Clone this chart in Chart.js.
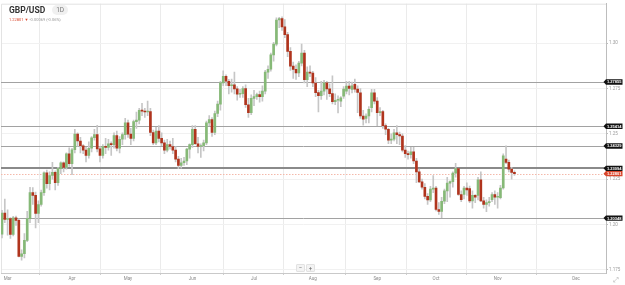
<!DOCTYPE html>
<html>
<head>
<meta charset="utf-8">
<script src="https://cdn.jsdelivr.net/npm/chart.js@4.4.1/dist/chart.umd.min.js"></script>
<style>
html, body { margin: 0; padding: 0; background: #fff; }
#wrap { position: relative; width: 625px; height: 285px; font-family: Roboto, "Open Sans", sans-serif; }
#title { position: absolute; left: 9px; top: 4px; height: 11px; display: flex; align-items: center; }
#title .sym { font-weight: bold; font-size: 8.5px; color: #333; }
#title .tf { margin-left: 7px; background: #f0f0f0; border-radius: 6px; padding: 1px 4px; font-size: 6.5px; color: #777; }
#sub { position: absolute; left: 9px; top: 17px; font-size: 4px; color: #999; white-space: nowrap; }
#sub .red { color: #d9452b; }
#zoomBtns { position: absolute; left: 296px; top: 264px; display: flex; gap: 1px; }
#zoomBtns span { width: 7px; height: 6px; line-height: 6px; text-align: center; font-size: 6px; color: #666; background: #f3f3f3; border: 1px solid #e2e2e2; border-radius: 1px; }
#resize { position: absolute; left: 613px; top: 276px; font-size: 7px; color: #aaa; }
</style>
</head>
<body>
<div id="wrap">
  <canvas id="chart"></canvas>
  <div id="title"><span class="sym">GBP/USD</span><span class="tf">1D</span></div>
  <div id="sub"><span class="red">1.22801 ▼</span> -0.00069 (-0.06%)</div>
  <div id="zoomBtns"><span>−</span><span>+</span></div>
  <div id="resize">⤢</div>
</div>
<script>
// trading days, Feb 27 – Nov 9
const dates = [
  '02-27','02-28',
  '03-01','03-02','03-03','03-06','03-07','03-08','03-09','03-10','03-13','03-14','03-15','03-16','03-17','03-20','03-21','03-22','03-23','03-24','03-27','03-28','03-29','03-30','03-31',
  '04-03','04-04','04-05','04-06','04-07','04-10','04-11','04-12','04-13','04-14','04-17','04-18','04-19','04-20','04-21','04-24','04-25','04-26','04-27','04-28',
  '05-01','05-02','05-03','05-04','05-05','05-08','05-09','05-10','05-11','05-12','05-15','05-16','05-17','05-18','05-19','05-22','05-23','05-24','05-25','05-26','05-29','05-30','05-31',
  '06-01','06-02','06-05','06-06','06-07','06-08','06-09','06-12','06-13','06-14','06-15','06-16','06-19','06-20','06-21','06-22','06-23','06-26','06-27','06-28','06-29','06-30',
  '07-03','07-04','07-05','07-06','07-07','07-10','07-11','07-12','07-13','07-14','07-17','07-18','07-19','07-20','07-21','07-24','07-25','07-26','07-27','07-28','07-31',
  '08-01','08-02','08-03','08-04','08-07','08-08','08-09','08-10','08-11','08-14','08-15','08-16','08-17','08-18','08-21','08-22','08-23','08-24','08-25','08-28','08-29','08-30','08-31',
  '09-01','09-04','09-05','09-06','09-07','09-08','09-11','09-12','09-13','09-14','09-15','09-18','09-19','09-20','09-21','09-22','09-25','09-26','09-27','09-28','09-29',
  '10-02','10-03','10-04','10-05','10-06','10-09','10-10','10-11','10-12','10-13','10-16','10-17','10-18','10-19','10-20','10-23','10-24','10-25','10-26','10-27','10-30','10-31',
  '11-01','11-02','11-03','11-06','11-07','11-08','11-09'
];

const opens = [
  1.1946, 1.2063,
  1.2027, 1.2032, 1.1945, 1.2036, 1.2022, 1.1824, 1.1838, 1.1912, 1.2032, 1.2175, 1.2160, 1.2060, 1.2110, 1.2175, 1.2285, 1.2225, 1.2270, 1.2288, 1.2230, 1.2308, 1.2340, 1.2315, 1.2390,
  1.2335, 1.2412, 1.2498, 1.2460, 1.2434, 1.2410, 1.2380, 1.2420, 1.2478, 1.2495, 1.2417, 1.2380, 1.2430, 1.2425, 1.2445, 1.2440, 1.2490, 1.2420, 1.2470, 1.2495,
  1.2561, 1.2498, 1.2475, 1.2567, 1.2575, 1.2630, 1.2625, 1.2620, 1.2622, 1.2507, 1.2450, 1.2515, 1.2475, 1.2450, 1.2410, 1.2440, 1.2430, 1.2410, 1.2360, 1.2325, 1.2340, 1.2350, 1.2415,
  1.2440, 1.2525, 1.2445, 1.2430, 1.2435, 1.2450, 1.2560, 1.2578, 1.2507, 1.2612, 1.2664, 1.2781, 1.2817, 1.2790, 1.2765, 1.2770, 1.2748, 1.2718, 1.2722, 1.2750, 1.2660, 1.2616,
  1.2695, 1.2705, 1.2716, 1.2705, 1.2735, 1.2840, 1.2856, 1.2935, 1.2995, 1.3128, 1.3135, 1.3090, 1.3047, 1.2955, 1.2873, 1.2855, 1.2836, 1.2890, 1.2945, 1.2799, 1.2840,
  1.2835, 1.2780, 1.2727, 1.2710, 1.2735, 1.2781, 1.2748, 1.2722, 1.2677, 1.2685, 1.2680, 1.2708, 1.2735, 1.2763, 1.2745, 1.2773, 1.2746, 1.2726, 1.2598, 1.2585, 1.2598, 1.2644, 1.2726,
  1.2680, 1.2616, 1.2622, 1.2545, 1.2525, 1.2465, 1.2470, 1.2505, 1.2495, 1.2488, 1.2410, 1.2390, 1.2385, 1.2400, 1.2350, 1.2290, 1.2235, 1.2205, 1.2155, 1.2135, 1.2195,
  1.2200, 1.2082, 1.2072, 1.2128, 1.2185, 1.2228, 1.2236, 1.2283, 1.2308, 1.2165, 1.2165, 1.2201, 1.2198, 1.2130, 1.2160, 1.2160, 1.2246, 1.2130, 1.2110, 1.2120, 1.2137, 1.2165,
  1.2150, 1.2147, 1.2201, 1.2360, 1.2342, 1.2305, 1.2287
];

const highs = [
  1.2077, 1.2140,
  1.2080, 1.2038, 1.2045, 1.2046, 1.2031, 1.1860, 1.1950, 1.2072, 1.2204, 1.2203, 1.2178, 1.2130, 1.2190, 1.2290, 1.2300, 1.2290, 1.2343, 1.2295, 1.2315, 1.2345, 1.2345, 1.2395, 1.2423,
  1.2420, 1.2525, 1.2505, 1.2480, 1.2440, 1.2425, 1.2455, 1.2485, 1.2525, 1.2546, 1.2430, 1.2440, 1.2475, 1.2470, 1.2455, 1.2505, 1.2515, 1.2485, 1.2505, 1.2585,
  1.2575, 1.2530, 1.2575, 1.2620, 1.2640, 1.2668, 1.2640, 1.2680, 1.2640, 1.2520, 1.2535, 1.2545, 1.2505, 1.2465, 1.2470, 1.2460, 1.2475, 1.2430, 1.2375, 1.2365, 1.2370, 1.2420, 1.2445,
  1.2545, 1.2545, 1.2480, 1.2445, 1.2465, 1.2570, 1.2600, 1.2590, 1.2625, 1.2680, 1.2790, 1.2848, 1.2825, 1.2800, 1.2802, 1.2840, 1.2760, 1.2745, 1.2760, 1.2770, 1.2695, 1.2715,
  1.2740, 1.2725, 1.2735, 1.2765, 1.2850, 1.2875, 1.2945, 1.3005, 1.3140, 1.3142, 1.3145, 1.3130, 1.3060, 1.2975, 1.2895, 1.2880, 1.2900, 1.2995, 1.2960, 1.2870, 1.2875,
  1.2845, 1.2810, 1.2740, 1.2790, 1.2795, 1.2790, 1.2775, 1.2820, 1.2720, 1.2710, 1.2705, 1.2760, 1.2790, 1.2790, 1.2785, 1.2802, 1.2765, 1.2750, 1.2630, 1.2610, 1.2650, 1.2745, 1.2745,
  1.2700, 1.2645, 1.2630, 1.2555, 1.2530, 1.2500, 1.2525, 1.2545, 1.2510, 1.2500, 1.2435, 1.2405, 1.2425, 1.2425, 1.2365, 1.2305, 1.2250, 1.2225, 1.2170, 1.2210, 1.2270,
  1.2210, 1.2120, 1.2150, 1.2195, 1.2260, 1.2240, 1.2290, 1.2337, 1.2310, 1.2185, 1.2210, 1.2230, 1.2212, 1.2185, 1.2165, 1.2260, 1.2290, 1.2150, 1.2135, 1.2150, 1.2175, 1.2185,
  1.2175, 1.2215, 1.2390, 1.2433, 1.2355, 1.2315, 1.2295
];

const lows = [
  1.1925, 1.2010,
  1.1940, 1.1922, 1.1937, 1.1995, 1.1820, 1.1802, 1.1815, 1.1905, 1.2010, 1.2110, 1.1980, 1.2010, 1.2100, 1.2160, 1.2200, 1.2190, 1.2250, 1.2190, 1.2215, 1.2280, 1.2290, 1.2305, 1.2320,
  1.2275, 1.2395, 1.2430, 1.2395, 1.2390, 1.2345, 1.2365, 1.2400, 1.2465, 1.2400, 1.2345, 1.2365, 1.2390, 1.2410, 1.2380, 1.2420, 1.2405, 1.2395, 1.2440, 1.2470,
  1.2480, 1.2440, 1.2460, 1.2530, 1.2555, 1.2600, 1.2590, 1.2600, 1.2490, 1.2440, 1.2440, 1.2455, 1.2435, 1.2390, 1.2400, 1.2415, 1.2390, 1.2345, 1.2308, 1.2310, 1.2325, 1.2330, 1.2365,
  1.2425, 1.2440, 1.2395, 1.2370, 1.2405, 1.2440, 1.2545, 1.2485, 1.2495, 1.2595, 1.2630, 1.2765, 1.2765, 1.2720, 1.2730, 1.2720, 1.2685, 1.2700, 1.2700, 1.2645, 1.2590, 1.2605,
  1.2655, 1.2690, 1.2675, 1.2680, 1.2720, 1.2805, 1.2845, 1.2900, 1.2985, 1.3085, 1.3070, 1.3030, 1.2925, 1.2850, 1.2805, 1.2800, 1.2815, 1.2875, 1.2780, 1.2760, 1.2815,
  1.2760, 1.2705, 1.2620, 1.2690, 1.2715, 1.2690, 1.2705, 1.2665, 1.2660, 1.2615, 1.2650, 1.2695, 1.2720, 1.2715, 1.2725, 1.2730, 1.2616, 1.2585, 1.2548, 1.2560, 1.2560, 1.2620, 1.2665,
  1.2545, 1.2600, 1.2530, 1.2495, 1.2445, 1.2445, 1.2460, 1.2445, 1.2440, 1.2400, 1.2370, 1.2360, 1.2365, 1.2335, 1.2230, 1.2230, 1.2195, 1.2140, 1.2110, 1.2125, 1.2175,
  1.2075, 1.2055, 1.2037, 1.2115, 1.2125, 1.2150, 1.2205, 1.2260, 1.2160, 1.2125, 1.2140, 1.2160, 1.2120, 1.2090, 1.2120, 1.2135, 1.2125, 1.2090, 1.2070, 1.2100, 1.2125, 1.2110,
  1.2090, 1.2140, 1.2195, 1.2335, 1.2290, 1.2250, 1.2270
];

const closes = [
  1.2063, 1.2027,
  1.2032, 1.1945, 1.2036, 1.2022, 1.1824, 1.1838, 1.1912, 1.2032, 1.2175, 1.2160, 1.2060, 1.2110, 1.2175, 1.2285, 1.2225, 1.2270, 1.2288, 1.2230, 1.2308, 1.2340, 1.2315, 1.2390, 1.2335,
  1.2412, 1.2498, 1.2460, 1.2434, 1.2410, 1.2380, 1.2420, 1.2478, 1.2495, 1.2417, 1.2380, 1.2430, 1.2425, 1.2445, 1.2440, 1.2490, 1.2420, 1.2470, 1.2495, 1.2561,
  1.2498, 1.2475, 1.2567, 1.2575, 1.2630, 1.2625, 1.2620, 1.2622, 1.2507, 1.2450, 1.2515, 1.2475, 1.2450, 1.2410, 1.2440, 1.2430, 1.2410, 1.2360, 1.2325, 1.2340, 1.2350, 1.2415, 1.2440,
  1.2525, 1.2445, 1.2430, 1.2435, 1.2450, 1.2560, 1.2578, 1.2507, 1.2612, 1.2664, 1.2781, 1.2817, 1.2790, 1.2765, 1.2770, 1.2748, 1.2718, 1.2722, 1.2750, 1.2660, 1.2616, 1.2695,
  1.2705, 1.2716, 1.2705, 1.2735, 1.2840, 1.2856, 1.2935, 1.2995, 1.3128, 1.3135, 1.3090, 1.3047, 1.2955, 1.2873, 1.2855, 1.2836, 1.2890, 1.2945, 1.2799, 1.2840, 1.2835,
  1.2780, 1.2727, 1.2710, 1.2735, 1.2781, 1.2748, 1.2722, 1.2677, 1.2685, 1.2688, 1.2698, 1.2746, 1.2763, 1.2750, 1.2765, 1.2746, 1.2728, 1.2598, 1.2580, 1.2598, 1.2635, 1.2726, 1.2680,
  1.2616, 1.2622, 1.2545, 1.2525, 1.2465, 1.2470, 1.2505, 1.2495, 1.2488, 1.2410, 1.2390, 1.2385, 1.2400, 1.2350, 1.2290, 1.2235, 1.2205, 1.2155, 1.2135, 1.2195, 1.2200,
  1.2082, 1.2072, 1.2128, 1.2185, 1.2228, 1.2236, 1.2283, 1.2308, 1.2165, 1.2137, 1.2201, 1.2190, 1.2130, 1.2160, 1.2150, 1.2246, 1.2130, 1.2110, 1.2120, 1.2125, 1.2165, 1.2150,
  1.2155, 1.2201, 1.2378, 1.2342, 1.2305, 1.2287, 1.22801
];

// month labels on the time axis and the candle index they sit at
const monthLabels = ['Mar', 'Apr', 'May', 'Jun', 'Jul', 'Aug', 'Sep', 'Oct', 'Nov', 'Dec'];
const monthTicks = [2, 25, 45, 68, 90, 111, 134, 155, 177, 205];

const priceTicks = [1.175, 1.2, 1.225, 1.25, 1.275, 1.3];

// horizontal support / resistance levels
const levelPrices = [1.27855, 1.25414, 1.24329, 1.23094, 1.20348];
const lastPrice = closes[closes.length - 1];

const upColor = '#86b977';
const downColor = '#b0341d';

const wicks = dates.map((d, i) => ({ x: i, y: [lows[i], highs[i]] }));
const bodies = dates.map((d, i) => ({ x: i, y: [opens[i], closes[i]] }));

function drawTag(ctx, xLeft, y, text, color) {
    const h = 5.4, w = 19;
    ctx.fillStyle = color;
    ctx.beginPath();
    ctx.moveTo(xLeft, y);
    ctx.lineTo(xLeft + 2.5, y - h / 2);
    ctx.lineTo(xLeft + w, y - h / 2);
    ctx.lineTo(xLeft + w, y + h / 2);
    ctx.lineTo(xLeft + 2.5, y + h / 2);
    ctx.closePath();
    ctx.fill();
    ctx.fillStyle = '#fff';
    ctx.font = 'bold 4px "Liberation Sans", Arial, sans-serif';
    ctx.textAlign = 'center';
    ctx.textBaseline = 'middle';
    ctx.fillText(text, xLeft + 2.5 + (w - 2.5) / 2, y + 0.3);
}

const levelsPlugin = {
    id: 'levels',
    beforeDatasetsDraw(chart) {
        const { ctx, chartArea, scales } = chart;
        ctx.save();
        // frame
        ctx.strokeStyle = '#e3e3e3';
        ctx.lineWidth = 1;
        ctx.beginPath();
        ctx.moveTo(chartArea.left + 0.5, chartArea.bottom);
        ctx.lineTo(chartArea.left + 0.5, chartArea.top + 0.5);
        ctx.lineTo(chartArea.right, chartArea.top + 0.5);
        ctx.stroke();

        levelPrices.forEach((p, k) => {
            const y = Math.round(scales.y.getPixelForValue(p));
            ctx.strokeStyle = k === 3 ? '#8a8a8a' : '#a2a2a2';
            ctx.lineWidth = k === 3 ? 2 : 1;
            ctx.beginPath();
            ctx.moveTo(chartArea.left, k === 3 ? y : y + 0.5);
            ctx.lineTo(chartArea.right, k === 3 ? y : y + 0.5);
            ctx.stroke();
        });

        const yLast = Math.round(scales.y.getPixelForValue(lastPrice)) + 0.5;
        ctx.strokeStyle = '#f4b9aa';
        ctx.lineWidth = 1;
        ctx.setLineDash([1.5, 1.5]);
        ctx.beginPath();
        ctx.moveTo(chartArea.left, yLast);
        ctx.lineTo(chartArea.right, yLast);
        ctx.stroke();
        ctx.restore();
    },
    afterDraw(chart) {
        const { ctx, chartArea, scales } = chart;
        ctx.save();
        levelPrices.forEach(p => {
            drawTag(ctx, chartArea.right - 2.5, scales.y.getPixelForValue(p), p.toFixed(5), '#111');
        });
        drawTag(ctx, chartArea.right - 2.5, scales.y.getPixelForValue(lastPrice), lastPrice.toFixed(5), '#d9452b');
        ctx.restore();
    }
};

const ctx = document.getElementById('chart').getContext('2d');
const chart = new Chart(ctx, {
    type: 'bar',
    data: {
        datasets: [{
            label: 'wick',
            data: wicks,
            backgroundColor: '#c6c6c6',
            barThickness: 1,
            grouped: false,
            order: 2
        }, {
            label: 'body',
            data: bodies,
            backgroundColor: function(c) {
                const i = c.dataIndex;
                return closes[i] >= opens[i] ? upColor : downColor;
            },
            barThickness: 2,
            minBarLength: 1,
            grouped: false,
            order: 1
        }]
    },
    options: {
        responsive: true,
        maintainAspectRatio: false,
        animation: false,
        events: [],
        layout: { padding: { left: 1, top: 2, right: 0, bottom: 0 } },
        plugins: {
            legend: { display: false },
            tooltip: { enabled: false }
        },
        scales: {
            x: {
                type: 'linear',
                min: -0.36,
                max: 215.7,
                offset: false,
                afterFit: function(scale) { scale.height = 12; },
                afterBuildTicks: function(scale) {
                    scale.ticks = monthTicks.map(v => ({ value: v }));
                },
                ticks: {
                    autoSkip: false,
                    maxRotation: 0,
                    padding: 1,
                    color: '#8a8a8a',
                    font: { size: 4.5, family: 'Roboto, sans-serif' },
                    callback: function(value) {
                        return monthLabels[monthTicks.indexOf(value)];
                    }
                },
                grid: { color: '#ebebeb', tickLength: 2, tickColor: '#cfcfcf' },
                border: { color: '#c9c9c9' }
            },
            y: {
                position: 'right',
                min: 1.17319,
                max: 1.32177,
                afterFit: function(scale) { scale.width = 19; },
                afterBuildTicks: function(scale) {
                    scale.ticks = priceTicks.map(v => ({ value: v }));
                },
                ticks: {
                    padding: 1,
                    color: '#9a9a9a',
                    font: { size: 4.5, family: 'Roboto, sans-serif' },
                    callback: function(value) {
                        return value.toFixed(3).replace(/0$/, '');
                    }
                },
                grid: { color: '#f1f1f1', tickLength: 2, tickColor: '#bdbdbd' },
                border: { color: '#bdbdbd' }
            }
        }
    },
    plugins: [levelsPlugin]
});
</script>
</body>
</html>
